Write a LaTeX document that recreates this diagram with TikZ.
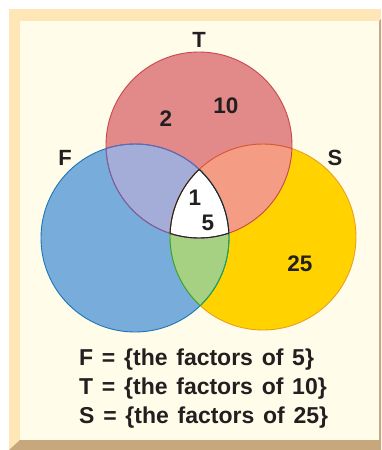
\documentclass[tikz,border=0pt]{standalone}
\usepackage{fontspec}
\setmainfont{Liberation Sans}
\usetikzlibrary{positioning}
\usepackage{xcolor}
\definecolor{framelight}{HTML}{FFE6B6}
\definecolor{framedark}{HTML}{C6A87C}
\definecolor{paper}{HTML}{FFFCE9}
\definecolor{inkblack}{HTML}{231F20}
\definecolor{tfill}{HTML}{E2898A}
\definecolor{ffill}{HTML}{78ADDB}
\definecolor{sfill}{HTML}{FFD200}
\definecolor{ftfill}{HTML}{A3ADD8}
\definecolor{tsfill}{HTML}{F59C84}
\definecolor{fsfill}{HTML}{A6D082}
\definecolor{tline}{HTML}{C9474D}
\definecolor{fline}{HTML}{1B75BB}
\definecolor{sline}{HTML}{E9A01E}
\definecolor{ftline}{HTML}{6D65AD}
\definecolor{tsline}{HTML}{D9514A}
\definecolor{fsline}{HTML}{1DA84A}
\newcommand{\legendfont}{\fontsize{23}{27}\selectfont\bfseries\spaceskip 0.38em\relax}
\tikzset{
  setname/.style={font=\fontsize{22}{26}\selectfont\bfseries, text=inkblack,
                  inner sep=0pt, anchor=base},
  member/.style={font=\fontsize{22.5}{26}\selectfont\bfseries, text=inkblack,
                 inner sep=0pt, anchor=base},
  legend/.style={font=\legendfont, text=inkblack, inner sep=0pt, anchor=base west},
  rim/.style={line width=0.9pt},
}

\begin{document}
\begin{tikzpicture}[x=1pt, y=-1pt]
  \useasboundingbox (0,0) rectangle (381,450);

  % --- frame ---
  \fill[framelight] (9,9) rectangle (381,450);
  \fill[framedark] (9,450) -- (20,440) -- (379,440) -- (379,21) -- (381,19)
                   -- (381,450) -- cycle;
  \fill[paper] (20,21) rectangle (379,440);

  % --- circle centres ---
  \coordinate (Tc) at (199,145);
  \coordinate (Fc) at (135,238);
  \coordinate (Sc) at (263,237);
  \def\rT{93}
  \def\rF{94}
  \def\rS{93}

  % --- fills ---
  \fill[ffill] (Fc) circle[radius=\rF];
  \fill[sfill] (Sc) circle[radius=\rS];
  \fill[tfill] (Tc) circle[radius=\rT];
  \begin{scope}
    \clip (Fc) circle[radius=\rF];
    \fill[ftfill] (Tc) circle[radius=\rT];
    \fill[fsfill] (Sc) circle[radius=\rS];
  \end{scope}
  \begin{scope}
    \clip (Tc) circle[radius=\rT];
    \fill[tsfill] (Sc) circle[radius=\rS];
    \clip (Fc) circle[radius=\rF];
    \fill[white] (Sc) circle[radius=\rS];
  \end{scope}

  % --- outlines ---
  \draw[rim, fline] (Fc) circle[radius=\rF];
  \draw[rim, sline] (Sc) circle[radius=\rS];
  \draw[rim, tline] (Tc) circle[radius=\rT];
  \begin{scope}
    \clip (Fc) circle[radius=\rF];
    \draw[rim, ftline] (Tc) circle[radius=\rT];
    \draw[rim, fsline] (Sc) circle[radius=\rS];
  \end{scope}
  \begin{scope}
    \clip (Sc) circle[radius=\rS];
    \draw[rim, fsline] (Fc) circle[radius=\rF];
  \end{scope}
  \begin{scope}
    \clip (Tc) circle[radius=\rT];
    \draw[rim, ftline] (Fc) circle[radius=\rF];
    \draw[rim, tsline] (Sc) circle[radius=\rS];
  \end{scope}
  % centre region edged in black
  \begin{scope}
    \clip (Tc) circle[radius=\rT];
    \clip (Fc) circle[radius=\rF];
    \draw[rim, inkblack] (Sc) circle[radius=\rS];
  \end{scope}
  \begin{scope}
    \clip (Tc) circle[radius=\rT];
    \clip (Sc) circle[radius=\rS];
    \draw[rim, inkblack] (Fc) circle[radius=\rF];
  \end{scope}
  \begin{scope}
    \clip (Fc) circle[radius=\rF];
    \clip (Sc) circle[radius=\rS];
    \draw[rim, inkblack] (Tc) circle[radius=\rT];
  \end{scope}

  % --- set names ---
  \node[setname] (nameT) at (199,47) {T};
  \node[setname] (nameF) at (65,165) {F};
  \node[setname] (nameS) at (335,165) {S};

  % --- members ---
  \node[member] (two) at (166,126) {2};
  \node[member] (ten) at (226,113) {10};
  \node[member] (one) at (195,205) {1};
  \node[member] (five) at (208,230) {5};
  \node[member] (twentyfive) at (300,271) {25};

  % --- legend ---
  \node[legend] (legF) at (79,365) {F = \{the factors of 5\}};
  \node[legend] (legT) at (79,394) {T = \{the factors of 10\}};
  \node[legend] (legS) at (79,423) {S = \{the factors of 25\}};

\end{tikzpicture}
\end{document}
